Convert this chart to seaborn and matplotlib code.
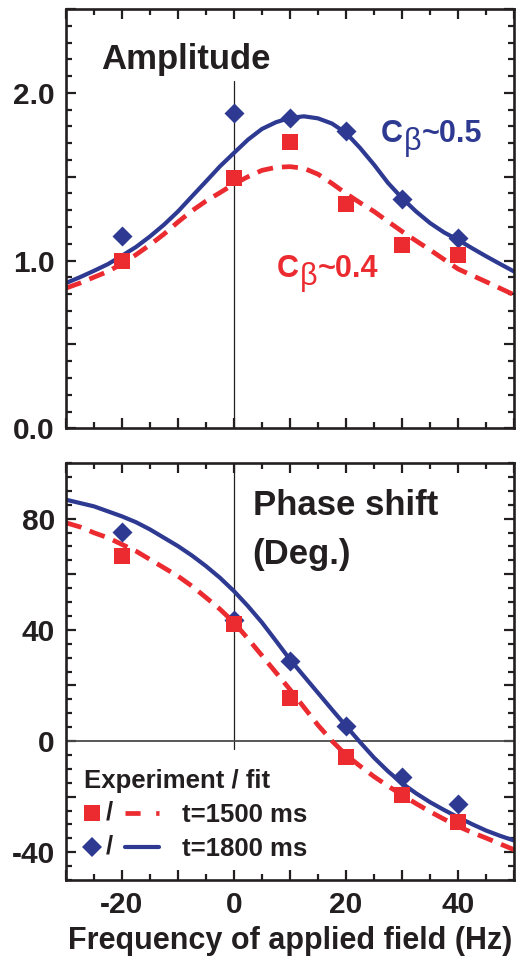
import matplotlib
matplotlib.use("Agg")
import matplotlib.pyplot as plt
import seaborn as sns
from matplotlib.ticker import FixedLocator, FixedFormatter, MultipleLocator
from matplotlib.lines import Line2D
from matplotlib.text import Text
from matplotlib.legend_handler import HandlerBase

# ---------------- data ----------------
freq_exp = [-20, 0, 10, 20, 30, 40]
amp_exp_1500 = [1.00, 1.495, 1.705, 1.335, 1.095, 1.035]
amp_exp_1800 = [1.145, 1.88, 1.85, 1.775, 1.37, 1.136]
phase_exp_1500 = [66.7, 42.2, 15.3, -5.6, -19.4, -29.0]
phase_exp_1800 = [75.1, 43.7, 28.6, 5.4, -13.1, -22.5]

freq_fit = [-30, -27.5, -25, -22.5, -20, -17.5, -15, -12.5, -10, -7.5, -5, -2.5,
            0, 2.5, 5, 7.5, 10, 12.5, 15, 17.5, 20, 22.5, 25, 27.5,
            30, 32.5, 35, 37.5, 40, 42.5, 45, 47.5, 50]
amp_fit_1500 = [0.836, 0.866, 0.901, 0.935, 0.981, 1.035, 1.094, 1.158, 1.230, 1.297, 1.355, 1.405,
                1.457, 1.500, 1.538, 1.556, 1.560, 1.550, 1.515, 1.460, 1.400, 1.345, 1.293, 1.233,
                1.174, 1.118, 1.064, 1.007, 0.950, 0.912, 0.874, 0.835, 0.796]
amp_fit_1800 = [0.866, 0.901, 0.939, 0.979, 1.029, 1.081, 1.144, 1.214, 1.293, 1.383, 1.472, 1.562,
                1.642, 1.721, 1.785, 1.825, 1.851, 1.860, 1.848, 1.817, 1.761, 1.672, 1.572, 1.463,
                1.373, 1.293, 1.224, 1.168, 1.124, 1.074, 1.026, 0.980, 0.935]
phase_fit_1500 = [78.5, 77.0, 74.9, 73.1, 70.7, 68.3, 65.3, 62.3, 59.3, 55.7, 51.6, 47.4,
                  42.6, 36.8, 30.7, 24.6, 18.5, 12.1, 5.7, 0.0, -5.0, -9.0, -12.8, -16.2,
                  -19.4, -22.5, -25.4, -28.1, -30.7, -32.9, -34.9, -37.0, -39.1]
phase_fit_1800 = [86.8, 85.6, 84.4, 82.6, 80.8, 78.7, 76.1, 73.1, 70.1, 66.7, 62.9, 58.7,
                  53.9, 48.5, 42.6, 36.0, 29.3, 23.3, 17.3, 11.3, 5.4, -0.4, -6.0, -10.9,
                  -15.2, -18.8, -22.0, -24.8, -27.4, -29.9, -32.2, -34.1, -35.8]

x_ticks = [-30, -20, -10, 0, 10, 20, 30, 40, 50]
x_tick_labels = ["", "-20", "", "0", "", "20", "", "40", ""]
amp_yticks = [0.0, 0.5, 1.0, 1.5, 2.0, 2.5]
amp_ytick_labels = ["0.0", "", "1.0", "", "2.0", ""]
phase_yticks = [-40, -20, 0, 20, 40, 60, 80]
phase_ytick_labels = ["-40", "", "0", "", "40", "", "80"]

series_labels = ["t=1500 ms", "t=1800 ms"]

# ---------------- style ----------------
BLUE = "#2E3A92"
RED = "#EB2B30"
DARK = "#231F20"

sns.set_style("ticks")
plt.rcParams["font.family"] = ["Liberation Sans", "DejaVu Sans"]
plt.rcParams["font.weight"] = "bold"
plt.rcParams["axes.unicode_minus"] = False
plt.rcParams["text.color"] = DARK
plt.rcParams["axes.edgecolor"] = DARK
plt.rcParams["xtick.color"] = DARK
plt.rcParams["ytick.color"] = DARK
plt.rcParams["axes.labelcolor"] = DARK

fig = plt.figure(figsize=(5.17, 9.69), dpi=100)
ax1 = fig.add_axes([66 / 517, 1 - 428.3 / 969, 448 / 517, 419.3 / 969])
ax2 = fig.add_axes([66 / 517, 1 - 880 / 969, 448 / 517, 417 / 969])

RED_DASH = (0, (3.4, 1.9))

# ---------------- amplitude panel ----------------
ax1.axvline(0, ymin=0, ymax=2.07 / 2.5, color=DARK, lw=0.9, zorder=1)
sns.lineplot(x=freq_fit, y=amp_fit_1500, color=RED, lw=3.4, linestyle=RED_DASH, ax=ax1, zorder=2)
sns.lineplot(x=freq_fit, y=amp_fit_1800, color=BLUE, lw=3.0, ax=ax1, zorder=2)
sns.scatterplot(x=freq_exp, y=amp_exp_1800, marker="D", s=104, color=BLUE, linewidth=0, ax=ax1, zorder=3)
sns.scatterplot(x=freq_exp, y=amp_exp_1500, marker="s", s=144, color=RED, linewidth=0, ax=ax1, zorder=4)

# ---------------- phase panel ----------------
ax2.axvline(0, ymin=(-3 + 50) / 150, ymax=1, color=DARK, lw=0.9, zorder=1)
ax2.axhline(0, color="#4a4a4a", lw=1.3, zorder=1)
sns.lineplot(x=freq_fit, y=phase_fit_1500, color=RED, lw=3.4, linestyle=RED_DASH, ax=ax2, zorder=2)
red_line = ax2.lines[-1]
sns.lineplot(x=freq_fit, y=phase_fit_1800, color=BLUE, lw=3.0, ax=ax2, zorder=2)
blue_line = ax2.lines[-1]
sns.scatterplot(x=freq_exp, y=phase_exp_1800, marker="D", s=104, color=BLUE, linewidth=0, ax=ax2, zorder=3)
sns.scatterplot(x=freq_exp, y=phase_exp_1500, marker="s", s=144, color=RED, linewidth=0, ax=ax2, zorder=4)

# ---------------- axes formatting ----------------
for ax in (ax1, ax2):
    ax.set_xlim(-30, 50)
    ax.xaxis.set_major_locator(FixedLocator(x_ticks))
    ax.xaxis.set_minor_locator(MultipleLocator(5))
    ax.tick_params(which="both", direction="in", top=True, right=True,
                   width=1.6, labelsize=21.5, pad=8)
    ax.tick_params(which="major", length=7.5)
    ax.tick_params(which="minor", length=4.5)
    for sp in ax.spines.values():
        sp.set_linewidth(1.9)
        sp.set_color(DARK)
    ax.set_ylabel("")

ax1.set_ylim(0, 2.5)
ax1.yaxis.set_major_locator(FixedLocator(amp_yticks))
ax1.yaxis.set_major_formatter(FixedFormatter(amp_ytick_labels))
ax1.yaxis.set_minor_locator(MultipleLocator(0.1))
ax1.tick_params(labelbottom=False)
ax1.set_xlabel("")

ax2.set_ylim(-50, 100)
ax2.yaxis.set_major_locator(FixedLocator(phase_yticks))
ax2.yaxis.set_major_formatter(FixedFormatter(phase_ytick_labels))
ax2.yaxis.set_minor_locator(MultipleLocator(5))
ax2.xaxis.set_major_formatter(FixedFormatter(x_tick_labels))
ax2.set_xlabel("Frequency of applied field (Hz)", fontsize=22, fontweight="bold", labelpad=5)

# ---------------- annotations ----------------
ax1.text(-23.75, 2.14, "Amplitude", fontsize=25, fontweight="bold", va="baseline", ha="left")


def c_beta(ax, x, y, value, color):
    tc = ax.text(x, y, "C", fontsize=22, fontweight="bold", color=color, va="baseline", ha="left")
    tb = ax.annotate("\u03b2", xy=(1, 0), xycoords=tc, xytext=(0.3, -5.5), textcoords="offset points",
                     fontsize=22, fontweight="normal", color=color, va="bottom", ha="left")
    ax.annotate(value, xy=(1, 0), xycoords=(tb, tc), xytext=(0.3, 0), textcoords="offset points",
                fontsize=22, fontweight="bold", color=color, va="bottom", ha="left")


c_beta(ax1, 26.25, 1.705, "~0.5", BLUE)
c_beta(ax1, 7.7, 0.90, "~0.4", RED)

ax2.text(3.4, 81.2, "Phase shift", fontsize=25, fontweight="bold", va="baseline", ha="left")
ax2.text(3.2, 63.6, "(Deg.)", fontsize=25, fontweight="bold", va="baseline", ha="left")


# ---------------- legend ----------------
class MarkerSlashLine(HandlerBase):
    def create_artists(self, legend, orig_handle, xdescent, ydescent, width, height, fontsize, trans):
        mk, ln = orig_handle
        yc = height / 2 - ydescent
        x0 = -xdescent
        m = Line2D([x0 + 0.107 * width], [yc], linestyle="none", marker=mk.get_marker(),
                   markersize=mk.get_markersize(), markerfacecolor=mk.get_markerfacecolor(),
                   markeredgewidth=0)
        s = Text(x0 + 0.34 * width, yc, "/", fontsize=fontsize, fontweight="bold",
                 color=DARK, ha="center", va="center")
        l = Line2D([x0 + 0.55 * width, x0 + width], [yc, yc])
        l.update_from(ln)
        if ln.get_linestyle() != "-":
            l.set_linestyle((0, (3.2, 3.3)))
        for a in (m, s, l):
            a.set_transform(trans)
        return [m, s, l]


sq_proxy = Line2D([], [], marker="s", markersize=12, color=RED, linestyle="none")
dm_proxy = Line2D([], [], marker="D", markersize=10.2, color=BLUE, linestyle="none")
ax2.legend(handles=[(sq_proxy, red_line), (dm_proxy, blue_line)], labels=series_labels,
           handler_map={tuple: MarkerSlashLine()}, title="Experiment / fit",
           loc="upper left", bbox_to_anchor=(0.04, 0.266), frameon=False,
           borderpad=0, borderaxespad=0, handlelength=2.92, handletextpad=0.9,
           labelspacing=0.38, fontsize=18.5,
           title_fontproperties={"weight": "bold", "size": 18.5}, alignment="left")

fig.savefig("out.png", dpi=100)
